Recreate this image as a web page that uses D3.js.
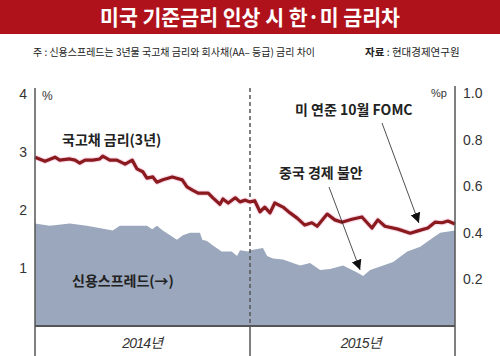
<!DOCTYPE html>
<html><head><meta charset="utf-8">
<script src="https://cdn.jsdelivr.net/npm/d3@7"></script>
<style>
body{margin:0;background:#fff;}
svg{display:block;font-family:"Liberation Sans","Noto Sans CJK KR",sans-serif;}
.kr{font-family:"Noto Sans CJK KR",sans-serif;}
</style></head>
<body>
<svg id="c" width="500" height="356"></svg>
<script>
const title = "미국 기준금리 인상 시 한·미 금리차";
const note = "주 : 신용스프레드는 3년물 국고채 금리와 회사채(AA– 등급) 금리 차이";
const sourceLabel = "자료";
const sourceText = " : 현대경제연구원";
const yearLabels = ["2014년", "2015년"];
const yearMids = ["2014-07-02", "2015-07-08"];
const yearDivider = "2015-01-01";
const leftTicks = [1, 2, 3, 4];
const rightTicks = [0.2, 0.4, 0.6, 0.8, 1.0];

const bondDates = ["2014-01-01","2014-01-18","2014-02-04","2014-02-12","2014-03-01","2014-03-10","2014-03-18","2014-03-27","2014-04-09","2014-04-21","2014-04-26","2014-05-08","2014-05-20","2014-06-03","2014-06-15","2014-06-23","2014-07-03","2014-07-10","2014-07-20","2014-07-27","2014-08-06","2014-08-22","2014-09-08","2014-09-16","2014-09-26","2014-10-05","2014-10-22","2014-10-30","2014-11-11","2014-11-16","2014-11-25","2014-12-07","2014-12-15","2014-12-24","2015-01-01","2015-01-09","2015-01-18","2015-01-26","2015-02-04","2015-02-12","2015-02-26","2015-03-10","2015-03-22","2015-04-04","2015-04-16","2015-04-25","2015-05-12","2015-05-25","2015-06-06","2015-06-23","2015-07-10","2015-07-27","2015-08-06","2015-08-18","2015-09-09","2015-09-30","2015-10-13","2015-10-30","2015-11-11","2015-11-23","2015-12-03","2015-12-15"];
const bondRates = [2.91,2.84,2.91,2.86,2.88,2.86,2.81,2.86,2.86,2.88,2.93,2.86,2.86,2.79,2.86,2.71,2.66,2.55,2.57,2.48,2.52,2.57,2.52,2.40,2.34,2.29,2.29,2.21,2.10,2.19,2.12,2.21,2.14,2.17,2.14,2.16,1.97,2.05,1.95,2.12,2.05,1.95,1.86,1.74,1.78,1.72,1.93,1.83,1.79,1.84,1.88,1.69,1.83,1.72,1.67,1.60,1.64,1.69,1.79,1.78,1.81,1.76];

const spreadDates = ["2014-01-01","2014-01-26","2014-03-01","2014-03-30","2014-05-13","2014-05-25","2014-07-10","2014-07-19","2014-07-27","2014-08-06","2014-08-30","2014-09-09","2014-09-21","2014-10-08","2014-10-12","2014-10-20","2014-10-30","2014-11-14","2014-12-01","2014-12-10","2014-12-15","2014-12-29","2015-01-01","2015-01-23","2015-01-30","2015-02-09","2015-02-26","2015-03-27","2015-04-13","2015-04-30","2015-05-17","2015-06-08","2015-07-02","2015-07-12","2015-07-24","2015-08-15","2015-09-01","2015-09-25","2015-10-17","2015-11-08","2015-11-20","2015-12-01","2015-12-15"];
const spreadValues = [0.44,0.43,0.44,0.43,0.41,0.43,0.43,0.415,0.43,0.41,0.37,0.39,0.40,0.40,0.37,0.365,0.345,0.32,0.32,0.30,0.325,0.32,0.325,0.335,0.30,0.29,0.285,0.26,0.27,0.24,0.245,0.26,0.23,0.215,0.24,0.26,0.275,0.32,0.34,0.38,0.40,0.405,0.41];

const annBond = "국고채 금리(3년)";
const annSpread = "신용스프레드(→)";
const annChina = "중국 경제 불안";
const annChinaDate = "2015-07-12";
const annFomc = "미 연준 10월 FOMC";
const annFomcDate = "2015-10-13";

const parse = d3.timeParse("%Y-%m-%d");
const svg = d3.select("#c");

const x = d3.scaleTime().domain([parse("2014-01-01"), parse("2015-12-15")]).range([35, 455]);
const yL = d3.scaleLinear().domain([0, 4]).range([326, 94]);
const yR = d3.scaleLinear().domain([0, 1]).range([326, 93]);

// title bar
svg.append("rect").attr("x",0).attr("y",0).attr("width",500).attr("height",34).attr("fill","#b0121c");
svg.append("text").attr("class","kr").attr("x",250).attr("y",25).attr("text-anchor","middle")
  .attr("fill","#fff").attr("font-size",21).attr("font-weight","bold")
  .attr("textLength",300).attr("lengthAdjust","spacingAndGlyphs").text(title);

svg.append("text").attr("class","kr").attr("x",33).attr("y",56).attr("font-size",10.5).attr("fill","#222")
  .attr("textLength",282).attr("lengthAdjust","spacingAndGlyphs").text(note);
const src = svg.append("text").attr("class","kr").attr("x",365).attr("y",56).attr("font-size",10.5).attr("fill","#222");
src.append("tspan").attr("font-weight","bold").text(sourceLabel);
src.append("tspan").text(sourceText);

// area
const spread = spreadDates.map((d,i)=>({date:parse(d), v:spreadValues[i]}));
svg.append("path").datum(spread)
  .attr("fill","#9ba7bc")
  .attr("d", d3.area().x(d=>x(d.date)).y0(yR(0)).y1(d=>yR(d.v)));

// divider
const xd = x(parse(yearDivider));
svg.append("line").attr("x1",xd).attr("x2",xd).attr("y1",88).attr("y2",yL(0))
  .attr("stroke","#555").attr("stroke-width",1.5).attr("stroke-dasharray","4,3");
svg.append("line").attr("x1",xd).attr("x2",xd).attr("y1",yL(0)).attr("y2",356)
  .attr("stroke","#555").attr("stroke-width",1.5);

// bond line
const bond = bondDates.map((d,i)=>({date:parse(d), v:bondRates[i]}));
const lineGen = d3.line().x(d=>x(d.date)).y(d=>yL(d.v));
svg.append("path").datum(bond)
  .attr("fill","none").attr("stroke","#f8dcea").attr("stroke-width",5.5).attr("stroke-linejoin","round")
  .attr("d", lineGen);
svg.append("path").datum(bond)
  .attr("fill","none").attr("stroke","#8a1a1e").attr("stroke-width",3.2).attr("stroke-linejoin","round")
  .attr("d", lineGen);

// axes
const axL = svg.append("g").attr("transform","translate(35,0)")
  .call(d3.axisLeft(yL).tickValues(leftTicks).tickSize(0).tickPadding(8).tickFormat(d3.format("d")));
axL.select(".domain").remove();
axL.selectAll("text").attr("font-size",14).attr("fill","#333").attr("font-family","Liberation Sans, sans-serif");
const axR = svg.append("g").attr("transform","translate(455,0)")
  .call(d3.axisRight(yR).tickValues(rightTicks).tickSize(0).tickPadding(8).tickFormat(d3.format(".1f")));
axR.select(".domain").remove();
axR.selectAll("text").attr("font-size",14).attr("fill","#333").attr("font-family","Liberation Sans, sans-serif");

svg.append("line").attr("x1",35).attr("x2",35).attr("y1",88).attr("y2",356).attr("stroke","#555").attr("stroke-width",1.5);
svg.append("line").attr("x1",455).attr("x2",455).attr("y1",86).attr("y2",356).attr("stroke","#555").attr("stroke-width",1.5);
svg.append("line").attr("x1",35).attr("x2",455).attr("y1",yL(0)).attr("y2",yL(0)).attr("stroke","#555").attr("stroke-width",2);

svg.append("text").attr("x",42).attr("y",100).attr("font-size",12).attr("fill","#333").text("%");
svg.append("text").attr("x",431).attr("y",97).attr("font-size",11).attr("fill","#333").text("%p");

// year labels
svg.selectAll(".yl").data(yearLabels).enter().append("text")
  .attr("x",(d,i)=>x(parse(yearMids[i]))).attr("y",348).attr("text-anchor","middle")
  .attr("font-size",14).attr("font-style","italic").attr("fill","#333").attr("letter-spacing",-0.8).text(d=>d);

// annotations
function ann(t, xx, yy){
  svg.append("text").attr("class","kr").attr("x",xx).attr("y",yy).attr("font-size",14)
    .attr("font-weight","bold").attr("fill","#222").text(t);
}
ann(annBond, 62, 145);
ann(annSpread, 72, 286);
ann(annChina, 279, 178);
ann(annFomc, 295, 115);

svg.append("defs").append("marker").attr("id","ah").attr("viewBox","0 0 10 10")
  .attr("refX",10).attr("refY",5).attr("markerWidth",10).attr("markerHeight",12)
  .attr("markerUnits","userSpaceOnUse").attr("orient","auto")
  .append("path").attr("d","M0,0 L10,5 L0,10 Z").attr("fill","#111");

// China arrow: tip just above the spread minimum
const chinaPt = spread.find(d=>+d.date===+parse(annChinaDate));
svg.append("line").attr("x1",329).attr("y1",187).attr("x2",x(chinaPt.date)-3).attr("y2",yR(chinaPt.v)-6)
  .attr("stroke","#222").attr("stroke-width",0.8).attr("marker-end","url(#ah)");
// FOMC arrow: tip just above the bond line
const fomcPt = bond.find(d=>+d.date===+parse(annFomcDate));
svg.append("line").attr("x1",382).attr("y1",123).attr("x2",x(fomcPt.date)+1).attr("y2",yL(fomcPt.v)-8)
  .attr("stroke","#222").attr("stroke-width",0.8).attr("marker-end","url(#ah)");
</script>
</body></html>
